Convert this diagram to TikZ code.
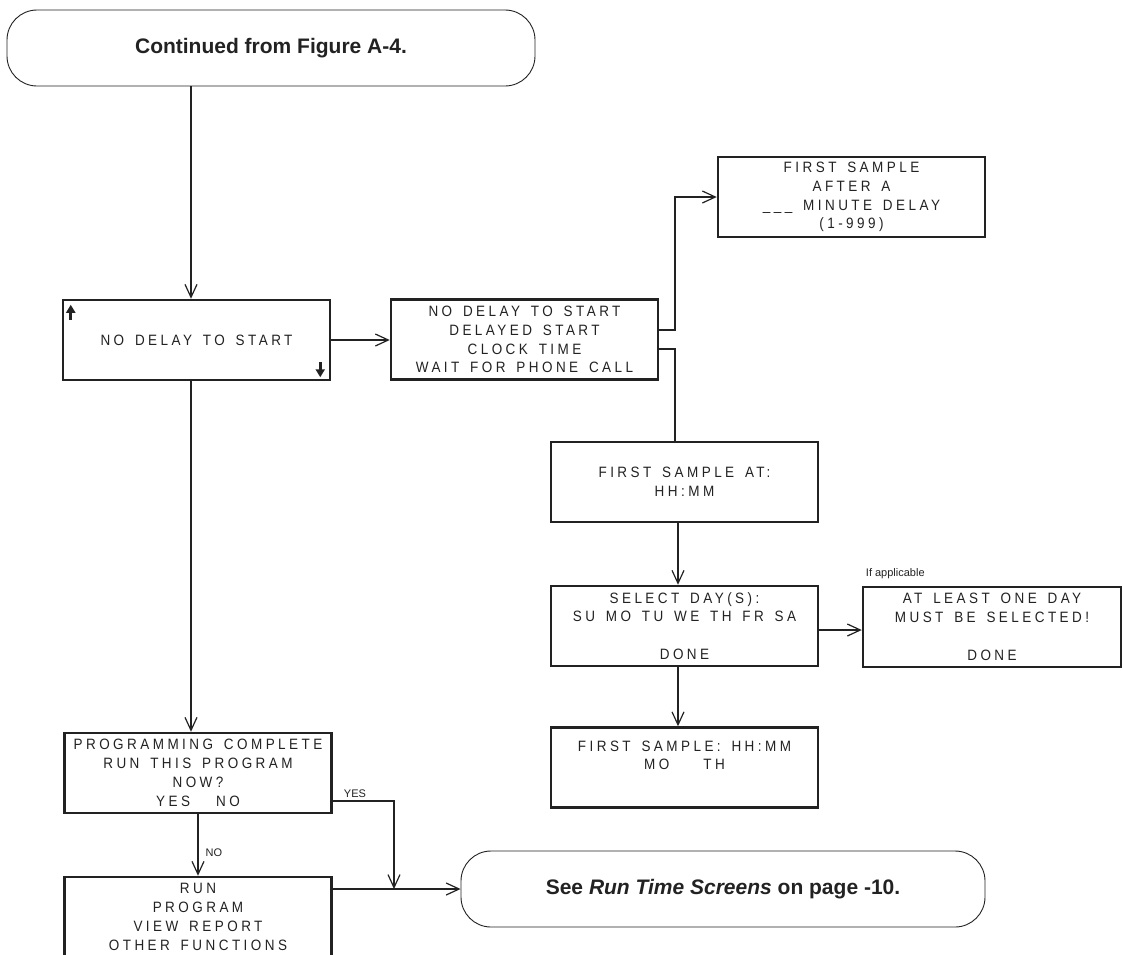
\documentclass[tikz,border=0pt]{standalone}
\usepackage{fontspec}
\setmainfont{Liberation Sans}
\newfontfamily\lcdfont[LetterSpace=23,FakeStretch=0.9,WordSpace=1.5]{Liberation Sans}
\usetikzlibrary{arrows.meta}
\definecolor{ink}{HTML}{222222}
\begin{document}
\begin{tikzpicture}[x=1pt,y=-1pt,
  lcd/.style={draw=ink, line width=2.5pt, minimum width=267pt, minimum height=80pt,
    inner sep=0pt, align=center, text=ink, font=\lcdfont\fontsize{15}{18.8}\selectfont},
  term/.style={draw=ink, line width=0.9pt, rounded corners=30pt, minimum height=76pt,
    inner sep=0pt, text=ink, font=\bfseries\fontsize{21}{25}\selectfont},
  conn/.style={draw=ink, line width=1.2pt},
  arr/.style={conn, -{Straight Barb[length=13pt,width=12pt]}},
  lab/.style={font=\fontsize{11}{13}\selectfont, text=ink, inner sep=0pt},
  updown/.style={draw=ink, line width=2.6pt, -{Triangle[length=8pt,width=9pt]}}]
\useasboundingbox (0,0) rectangle (1123,954);
\fill[white] (0,0) rectangle (1123,954);
\clip (0,0) rectangle (1123,954);

% terminals
\node[term, minimum width=528pt] (t1) at (271,48) {Continued from Figure A-4.};
\node[term, minimum width=524pt] (t2) at (723,889) {See \textit{Run Time Screens} on page -10.};

% screens
\node[lcd] (b1) at (196.5,340) {NO DELAY TO START};
\node[lcd] (b2) at (524.5,339.5) {NO DELAY TO START\\DELAYED START\\CLOCK TIME\\WAIT FOR PHONE CALL};
\node[lcd] (b3) at (851.5,197) {FIRST SAMPLE\\AFTER A\\\_\_\_ MINUTE DELAY\\(1-999)};
\node[lcd] (b4) at (684.5,482) {FIRST SAMPLE AT:\\HH:MM};
\node[lcd] (b5) at (684.5,626) {SELECT DAY(S):\\SU MO TU WE TH FR SA\\[18.8pt]DONE};
\node[lcd, minimum width=258pt] (b6) at (992,627) {AT LEAST ONE DAY\\MUST BE SELECTED!\\[18.8pt]DONE};
\node[lcd] (b7) at (684.5,767.5) {FIRST SAMPLE: HH:MM\\MO\hspace{34pt}TH\\\strut};
\node[lcd] (b8) at (198,773) {PROGRAMMING COMPLETE\\RUN THIS PROGRAM\\NOW?\\YES\hspace{26pt}NO};
\node[lcd] (b9) at (198,917) {RUN\\PROGRAM\\VIEW REPORT\\OTHER FUNCTIONS};

\node[lab, anchor=south west] (ia) at ([xshift=4pt,yshift=7pt]b6.north west) {If applicable};

% scroll arrows in first screen
\draw[updown] ([shift={(9,21)}]b1.north west) -- ([shift={(9,6)}]b1.north west);
\draw[updown] ([shift={(-11,-19)}]b1.south east) -- ([shift={(-11,-4)}]b1.south east);

% connectors
\coordinate (xa) at (191,0);
\coordinate (xb) at (675,0);
\coordinate (xc) at (678,0);
\coordinate (xd) at (198,0);
\coordinate (xe) at (394,0);

\draw[arr] (t1.south -| xa) -- (b1.north -| xa);
\draw[arr] (b1.east) -- (b1.east -| b2.west);
\draw[arr] ([yshift=9.5pt]b2.east) -| (xb |- b3.west) -- (b3.west);
\draw[conn] ([yshift=-9.5pt]b2.east) -| (b4.north -| xb);
\draw[arr] (b4.south -| xc) -- (b5.north -| xc);
\draw[arr] ([yshift=-4pt]b5.east) -- ([yshift=-4pt]b5.east -| b6.west);
\draw[arr] (b5.south -| xc) -- (b7.north -| xc);
\draw[arr] (b1.south -| xa) -- (b8.north -| xa);
\draw[arr] (b8.south -| xd) -- node[lab, anchor=west, pos=0.62, xshift=7pt] (nol) {NO} (b9.north -| xd);
\draw[arr] ([yshift=-28pt]b8.east) -| (xe |- t2.west);
\node[lab, anchor=south west] (yesl) at ([xshift=11pt,yshift=-25pt]b8.east) {YES};
\draw[arr] (t2.west -| b9.east) -- (t2.west);
\end{tikzpicture}
\end{document}
